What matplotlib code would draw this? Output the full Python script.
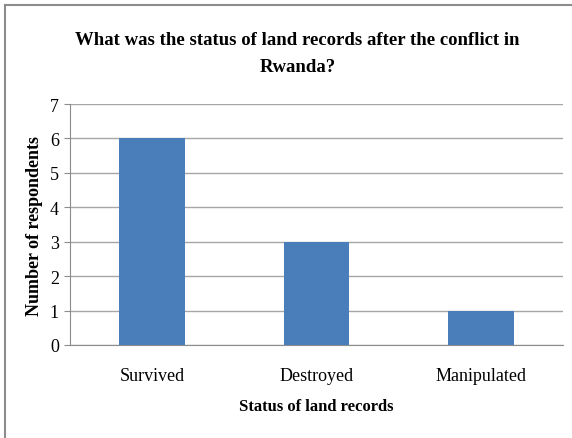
import matplotlib
matplotlib.use("Agg")
import matplotlib.pyplot as plt
from matplotlib.lines import Line2D

categories = ["Survived", "Destroyed", "Manipulated"]
values = [6, 3, 1]
yticks = [0, 1, 2, 3, 4, 5, 6, 7]

plt.rcParams['font.family'] = ['Liberation Serif', 'DejaVu Serif']

fig = plt.figure(figsize=(5.72, 4.39), dpi=100)
ax = fig.add_axes([70/572, 1-346/439, 493/572, 241/439])

x = range(len(categories))
ax.bar(x, values, width=0.40, color="#4a7ebb", zorder=3)
ax.set_xlim(-0.5, len(categories) - 0.5)
ax.set_ylim(0, 7)
ax.set_yticks(yticks)
ax.set_xticks(list(x))
ax.set_xticklabels(categories, fontsize=13)
ax.tick_params(axis='x', length=0, pad=16)
ax.tick_params(axis='y', length=4, color="#8c8c8c", labelsize=13, pad=4)
ax.grid(axis='y', color="#a6a6a6", linewidth=1, zorder=0)
for s in ["top", "right"]:
    ax.spines[s].set_visible(False)
ax.spines["left"].set_color("#8c8c8c")
ax.spines["bottom"].set_color("#8c8c8c")

ax.set_ylabel("Number of respondents", fontsize=13, fontweight="bold", labelpad=5)
ax.set_xlabel("Status of land records", fontsize=12, fontweight="bold", labelpad=10)

fig.text(0.52, 1-54/439, "What was the status of land records after the conflict in\nRwanda?",
         ha="center", va="center", fontsize=13.5, fontweight="bold", linespacing=1.75)

fig.add_artist(Line2D([5/572, 5/572], [0, 1-6/439], transform=fig.transFigure,
                      color="#8c8c8c", linewidth=1.5))
fig.add_artist(Line2D([5/572, 1], [1-6/439, 1-6/439], transform=fig.transFigure,
                      color="#8c8c8c", linewidth=1.5))

fig.savefig("out.png", dpi=100)
